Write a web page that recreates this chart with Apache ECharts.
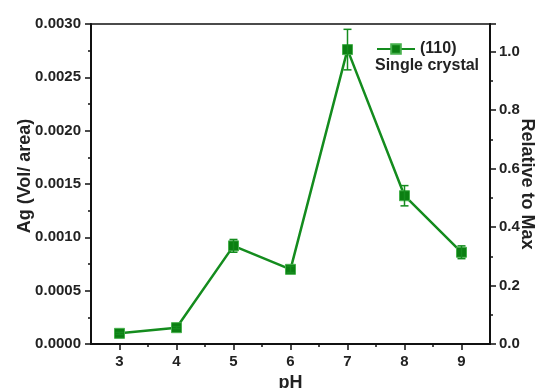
<!DOCTYPE html>
<html>
<head>
<meta charset="utf-8">
<script src="https://cdn.jsdelivr.net/npm/echarts@6/dist/echarts.min.js"></script>
<style>
  html, body { margin: 0; padding: 0; background: #fff; }
  #main { width: 540px; height: 388px; }
</style>
</head>
<body>
<div id="main"></div>
<script>
// values
var phValues = [3, 4, 5, 6, 7, 8, 9];
var agValues = [0.00010, 0.000153, 0.00092, 0.00070, 0.00276, 0.00139, 0.00086];
var agErrors = [0.00001, 0.00001, 0.00006, 0.00003, 0.00019, 0.000095, 0.00006];
var phTicks = [3, 4, 5, 6, 7, 8, 9];
var phMinorTicks = [3.5, 4.5, 5.5, 6.5, 7.5, 8.5];

var green = "#148c1e";
var font = "Liberation Sans";

var lineData = phValues.map(function (x, i) { return [x, agValues[i]]; });
var errData = phValues.map(function (x, i) { return [x, agValues[i], agErrors[i]]; });

var chart = echarts.init(document.getElementById("main"));

var option = {
  backgroundColor: "#fff",
  animation: false,
  grid: {
    left: 91, right: 50, top: 24, bottom: 44,
    outerBoundsMode: "none", containLabel: false,
    show: true, borderColor: "#111", borderWidth: 1.5
  },
  legend: {
    left: 371, top: 36,
    itemWidth: 38, itemHeight: 12, itemGap: 4,
    textStyle: { fontFamily: font, fontWeight: "bold", fontSize: 16, color: "#222" },
    data: ["(110)"]
  },
  graphic: [{
    type: "text", left: 375, top: 58,
    style: { text: "Single crystal", fontFamily: font, fontWeight: "bold", fontSize: 16, fill: "#222" }
  }],
  xAxis: [{
    type: "value", min: 2.5, max: 9.5, interval: 0.5,
    name: "pH", nameLocation: "middle", nameGap: 27,
    nameTextStyle: { fontFamily: font, fontWeight: "bold", fontSize: 18, color: "#222" },
    axisLine: { lineStyle: { color: "#111", width: 2 } },
    axisTick: { inside: false, length: 6, customValues: phTicks, lineStyle: { color: "#111", width: 1.5 } },
    axisLabel: { customValues: phTicks, margin: 10, fontFamily: font, fontWeight: "bold", fontSize: 15, color: "#222" },
    splitLine: { show: false }
  }, {
    type: "value", min: 2.5, max: 9.5, interval: 0.5, position: "bottom",
    axisLine: { show: false },
    axisTick: { length: 3, customValues: phMinorTicks, lineStyle: { color: "#111", width: 1.5 } },
    axisLabel: { show: false },
    splitLine: { show: false }
  }],
  yAxis: [{
    type: "value", min: 0, max: 0.003, interval: 0.0005,
    name: "Ag (Vol/ area)", nameLocation: "middle", nameGap: 57, nameMoveOverlap: false,
    nameTextStyle: { fontFamily: font, fontWeight: "bold", fontSize: 18, color: "#222", padding: [0, 0, 0, 16] },
    axisLine: { show: true, lineStyle: { color: "#111", width: 2 } },
    axisTick: { show: true, length: 6, lineStyle: { color: "#111", width: 1.5 } },
    minorTick: { show: true, splitNumber: 2, length: 3, lineStyle: { color: "#111", width: 1.5 } },
    axisLabel: {
      margin: 10, fontFamily: font, fontWeight: "bold", fontSize: 15, color: "#222",
      formatter: function (v) { return v.toFixed(4); }
    },
    splitLine: { show: false }
  }, {
    type: "value", min: 0, max: 1.095, interval: 0.2, position: "right",
    name: "Relative to Max", nameLocation: "middle", nameGap: 28, nameRotate: -90, nameMoveOverlap: false,
    nameTextStyle: { fontFamily: font, fontWeight: "bold", fontSize: 18, color: "#222" },
    axisLine: { show: true, lineStyle: { color: "#111", width: 2 } },
    axisTick: { show: true, length: 6, lineStyle: { color: "#111", width: 1.5 } },
    minorTick: { show: true, splitNumber: 2, length: 3, lineStyle: { color: "#111", width: 1.5 } },
    axisLabel: {
      margin: 9, showMaxLabel: false, fontFamily: font, fontWeight: "bold", fontSize: 15, color: "#222",
      formatter: function (v) { return v > 1.05 ? "" : v.toFixed(1); }
    },
    splitLine: { show: false }
  }],
  series: [{
    name: "(110)",
    type: "line",
    data: lineData,
    symbol: "rect",
    symbolSize: 10,
    lineStyle: { color: green, width: 2.5 },
    itemStyle: { color: "#0b7f12", borderColor: "#46b04c", borderWidth: 1 },
    z: 3
  }, {
    name: "err",
    type: "custom",
    data: errData,
    z: 4,
    renderItem: function (params, api) {
      var x = api.value(0), y = api.value(1), e = api.value(2);
      var top = api.coord([x, y + e]);
      var bot = api.coord([x, y - e]);
      var cap = 4;
      var st = { stroke: green, lineWidth: 1.5 };
      return {
        type: "group",
        children: [
          { type: "line", shape: { x1: top[0], y1: top[1], x2: bot[0], y2: bot[1] }, style: st },
          { type: "line", shape: { x1: top[0] - cap, y1: top[1], x2: top[0] + cap, y2: top[1] }, style: st },
          { type: "line", shape: { x1: bot[0] - cap, y1: bot[1], x2: bot[0] + cap, y2: bot[1] }, style: st }
        ]
      };
    }
  }]
};

chart.setOption(option);
</script>
</body>
</html>
